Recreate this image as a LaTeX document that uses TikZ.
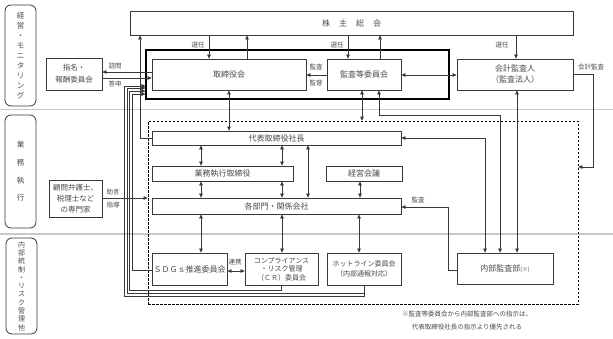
\documentclass[tikz,border=0pt]{standalone}
\usepackage{fontspec}
\setmainfont{Noto Sans CJK JP}
\usetikzlibrary{arrows.meta,calc}
\definecolor{linec}{HTML}{383838}
\definecolor{txtc}{HTML}{4A4A4A}
\definecolor{sepc}{HTML}{C8C8C8}
\begin{document}
\begin{tikzpicture}[x=1pt,y=-1pt,
  box/.style={draw=linec, line width=0.8pt, fill=white, inner sep=0pt, text=txtc, align=center, font=\fontsize{8}{10}\selectfont},
  lbl/.style={text=txtc, inner sep=0pt, font=\fontsize{6.5}{8}\selectfont},
  con/.style={draw=linec, line width=0.7pt},
  ar/.style={con, -{Triangle[length=4pt,width=3.6pt]}},
  bar/.style={con, {Triangle[length=4pt,width=3.6pt]}-{Triangle[length=4pt,width=3.6pt]}},
  side/.style={draw=linec, line width=0.8pt, rounded corners=6pt, inner sep=0pt, text=txtc, align=center},
  sep/.style={draw=sepc, line width=1.5pt}
]
\useasboundingbox (0,0) rectangle (613,338);
% helper columns / rows
\foreach \c in {124,127,129,132,140,201,209,247,282,308,348,359,360,362,379,380,448,485,500,516,517,593}
  {\coordinate (c\c) at (\c,0);}
\foreach \r in {72,74,75,78,86,88,91,94,115,138,167,198,207,270,271,290,293,296}
  {\coordinate (r\r) at (0,\r);}
% separators
\draw[sep] (0,109.5) -- (613,109.5);
\draw[sep] (0,234) -- (613,234);
% side labels
\node[side, minimum width=31pt, minimum height=101pt, font=\fontsize{7.5}{10}\selectfont] (s1) at (20.5,55.5) {経\\営\\・\\モ\\ニ\\タ\\リ\\ン\\グ};
\node[side, minimum width=31pt, minimum height=113pt, font=\fontsize{7.5}{17.7}\selectfont] (s2) at (20.5,171.5) {業\\務\\執\\行};
\node[side, minimum width=31pt, minimum height=96pt, font=\fontsize{7}{8.3}\selectfont] (s3) at (21.5,286) {内\\部\\統\\制\\・\\リ\\ス\\ク\\管\\理\\他};
% top
\node[box, minimum width=443pt, minimum height=24pt] (kabu) at (351.5,23) {株\hspace{9pt}主\hspace{9pt}総\hspace{9pt}会};
\node[draw=black, line width=1.05pt, minimum width=303pt, minimum height=49pt, inner sep=0pt] (frame) at (297.5,74.5) {};
\node[box, minimum width=154pt, minimum height=31pt] (tori) at (229,74.5) {取締役会};
\node[box, minimum width=74pt, minimum height=31pt] (kansa) at (364,74.5) {監査等委員会};
\node[box, minimum width=116pt, minimum height=31pt, font=\fontsize{8}{11}\selectfont] (kaikei) at (515,74.5) {会計監査人\\（監査法人）};
\node[box, minimum width=56pt, minimum height=32pt, font=\fontsize{7.5}{12}\selectfont] (shimei) at (74,74) {指名・\\報酬委員会};
% dashed frame
\node[draw=black, line width=0.7pt, dash pattern=on 2.5pt off 1.5pt, minimum width=430pt, minimum height=183pt, inner sep=0pt] (dfr) at (363,212.5) {};
\node[box, minimum width=249pt, minimum height=14pt] (daihyo) at (276.5,138) {代表取締役社長};
\node[box, minimum width=141pt, minimum height=15pt] (gyomu) at (222.5,173.5) {業務執行取締役};
\node[box, minimum width=76pt, minimum height=15pt] (keiei) at (364,173.5) {経営会議};
\node[box, minimum width=249pt, minimum height=16pt] (kakubu) at (276.5,206) {各部門・関係会社};
\node[box, minimum width=53pt, minimum height=37pt, font=\fontsize{7.5}{11}\selectfont] (komon) at (75.5,198.5) {顧問弁護士、\\税理士など\\の専門家};
% bottom
\node[box, minimum width=75pt, minimum height=32pt] (sdgs) at (189.5,269) {ＳＤＧｓ推進委員会};
\node[box, minimum width=73pt, minimum height=32pt, font=\fontsize{7}{8.5}\selectfont] (cr) at (281.5,269) {コンプライアンス\\・リスク管理\\（ＣＲ）委員会};
\node[box, minimum width=74pt, minimum height=32pt, font=\fontsize{7}{9.5}\selectfont] (hot) at (364,269) {ホットライン委員会\\（内部通報対応）};
\node[box, minimum width=96pt, minimum height=31pt] (naibu) at (505,268.5) {内部監査部{\fontsize{5.5}{6}\selectfont(※)}};
% connectors top
\draw[ar] (kabu.south -| c209) -- (tori.north -| c209);
\node[lbl] (l1) at (198,45) {選任};
\draw[ar] (tori.north -| c247) -- (kabu.south -| c247);
\draw[ar] (kabu.south -| c348) -- (kansa.north -| c348);
\node[lbl] (l2) at (337,45) {選任};
\draw[ar] (kansa.north -| c380) -- (kabu.south -| c380);
\draw[ar] (kabu.south -| c516) -- (kaikei.north -| c516);
\node[lbl] (l3) at (502,45) {選任};
\draw[ar] (kansa.west |- r75) -- (tori.east |- r75);
\node[lbl] (l4) at (316,67) {監査};
\node[lbl] (l5) at (316,83) {監督};
\draw[bar] (kansa.east |- r75) -- (kaikei.west |- r75);
\draw[ar] (tori.west |- r72) -- (shimei.east |- r72);
\draw[ar] (shimei.east |- r78) -- (tori.west |- r78);
\node[lbl] (l6) at (115,66) {諮問};
\node[lbl] (l7) at (115,84) {答申};
\draw[ar] (daihyo.west |- r138) -- (c140 |- r138) -- (kabu.south -| c140);
% left verticals
\draw[ar] (sdgs.west |- r270) -- (c132 |- r270) -- (c132 |- r94) -- (frame.west |- r94);
\draw[ar] (cr.south) -- (cr.south |- r290) -- (c129 |- r290) -- (c129 |- r91) -- (frame.west |- r91);
\draw[ar] (hot.south) -- (hot.south |- r293) -- (c127 |- r293) -- (c127 |- r88) -- (frame.west |- r88);
\draw[ar] (hot.south) -- (hot.south |- r296) -- (c124 |- r296) -- (c124 |- r86) -- (frame.west |- r86);
% center
\draw[bar] (tori.south) -- (daihyo.north -| tori.south);
\draw[bar] (kansa.south -| c362) -- (dfr.north -| c362);
\draw[bar] (kansa.south -| c379) -- (c379 |- r115) -- (c500 |- r115) -- (naibu.north -| c500);
\draw[bar] (daihyo.east |- r138) -- (c485 |- r138) -- (naibu.north -| c485);
\draw[bar] (kaikei.south -| c517) -- (naibu.north -| c517);
\draw[ar] (kaikei.east |- r74) -- (c593 |- r74) -- (c593 |- r167) -- (dfr.east |- r167);
\node[lbl] (l8) at (591,67) {会計監査};
\draw[ar] (naibu.west |- r270) -- (c448 |- r270) -- (c448 |- r207) -- (kakubu.east |- r207);
\node[lbl] (l9) at (418,200) {監査};
\draw[bar] (daihyo.south -| c201) -- (gyomu.north -| c201);
\draw[bar] (daihyo.south -| c282) -- (gyomu.north -| c282);
\draw[bar] (gyomu.south -| c201) -- (kakubu.north -| c201);
\draw[bar] (gyomu.south -| c282) -- (kakubu.north -| c282);
\draw[bar] (daihyo.south -| c308) -- (kakubu.north -| c308);
\draw[bar] (keiei.south -| c360) -- (kakubu.north -| c360);
\draw[bar] (kakubu.south -| c201) -- (sdgs.north -| c201);
\draw[bar] (kakubu.south -| c282) -- (cr.north -| c282);
\draw[bar] (kakubu.south -| c359) -- (hot.north -| c359);
\draw[bar] (sdgs.east |- r271) -- (cr.west |- r271);
\node[lbl] (l10) at (235,262) {連携};
\draw[ar] (komon.east |- r198) -- (dfr.west |- r198);
\node[lbl] (l11) at (113,192) {助言};
\node[lbl] (l12) at (113,205) {指導};
% note
\node[lbl, align=center, font=\fontsize{6.5}{13}\selectfont] (note) at (467,320.5) {※監査等委員会から内部監査部への指示は、\\代表取締役社長の指示より優先される};
\end{tikzpicture}
\end{document}
